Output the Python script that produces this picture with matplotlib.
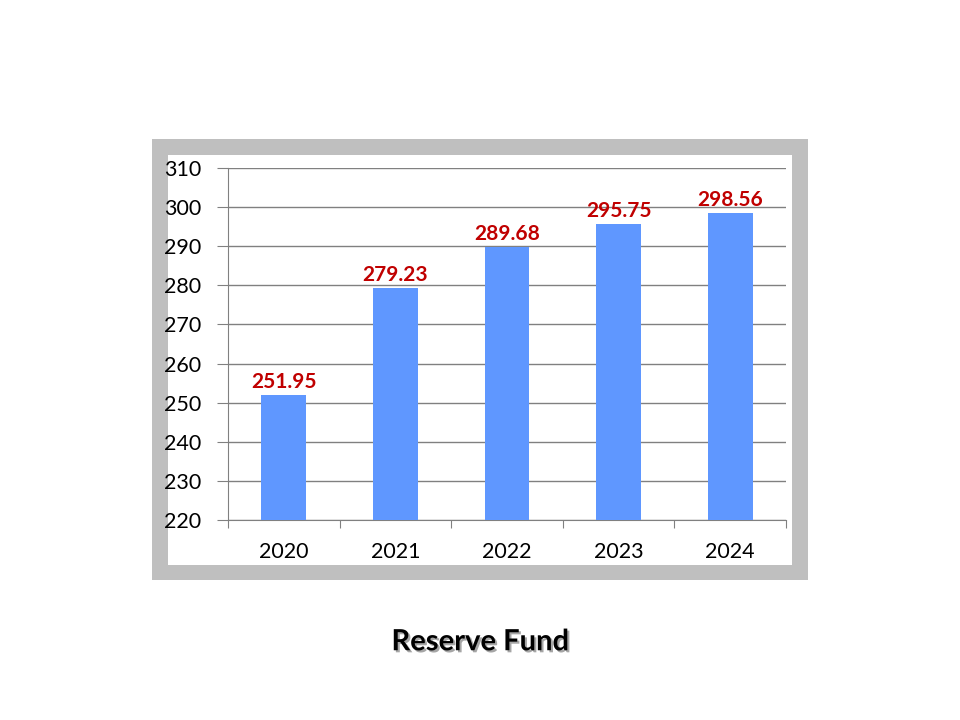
import matplotlib
matplotlib.use("Agg")
import matplotlib.pyplot as plt
import matplotlib.patheffects as pe
from matplotlib.patches import Rectangle

years = ["2020", "2021", "2022", "2023", "2024"]
reserve = [251.95, 279.23, 289.68, 295.75, 298.56]
labels = ["251.95", "279.23", "289.68", "295.75", "298.56"]

plt.rcParams['font.family'] = ['Lato', 'DejaVu Sans']

fig = plt.figure(figsize=(9.6, 7.2), dpi=100)

# grey frame with white panel behind the chart
fig.patches.append(Rectangle((0.1583, 0.1944), 0.6833, 0.6125, transform=fig.transFigure,
                             facecolor="#BFBFBF", edgecolor="none", zorder=-2))
fig.patches.append(Rectangle((0.175, 0.2153), 0.65, 0.5694, transform=fig.transFigure,
                             facecolor="white", edgecolor="none", zorder=-1))

ax = fig.add_axes([0.2375, 0.2778, 0.58125, 0.4889])
ax.patch.set_alpha(0)

x = range(len(years))
ax.bar(x, reserve, width=0.4, color="#5F97FF", zorder=3)
for i, (v, t) in enumerate(zip(reserve, labels)):
    ax.text(i, v + 0.8, t, ha="center", va="bottom", color="#C00000",
            fontsize=15, fontweight="bold", zorder=4)

ax.set_xlim(-0.5, len(years) - 0.5)
ax.set_ylim(220, 310)
ax.set_yticks(range(220, 311, 10))
ax.set_xticks([i - 0.5 for i in range(len(years) + 1)], minor=False)
ax.set_xticklabels([])
ax.set_xticks(list(x), minor=True)
ax.set_xticklabels(years, minor=True)
ax.tick_params(axis="x", which="major", length=6, color="#808080", direction="out")
ax.tick_params(axis="x", which="minor", length=0, pad=16, labelsize=15.5)
ax.tick_params(axis="y", length=8, color="#808080", pad=11, labelsize=15.5)

ax.yaxis.grid(True, color="#808080", linewidth=1, zorder=1)
for s in ["top", "right"]:
    ax.spines[s].set_visible(False)
for s in ["left", "bottom"]:
    ax.spines[s].set_color("#808080")

fig.text(0.5, 0.108, "Reserve Fund", ha="center", va="center", fontsize=21,
         fontweight="bold",
         path_effects=[pe.withSimplePatchShadow(offset=(1.5, -1.5), alpha=0.35)])

fig.savefig("out.png", dpi=100)
